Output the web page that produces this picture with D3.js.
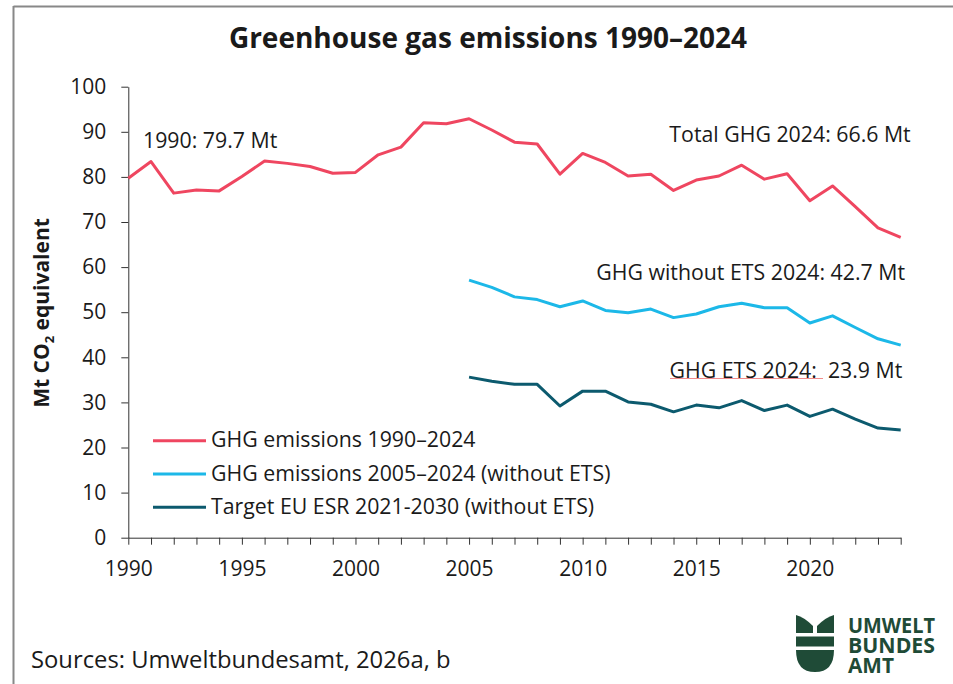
<!DOCTYPE html>
<html lang="en">
<head>
    <meta charset="UTF-8">
    <title>Greenhouse gas emissions 1990–2024</title>
    <script src="https://cdn.jsdelivr.net/npm/d3@7/dist/d3.min.js"></script>
    <style>
        body { margin: 0; background: #fff; }
        text { font-family: "Open Sans", "Noto Sans", sans-serif; fill: #1a1a1a; }
    </style>
</head>
<body>
    <svg id="chart" width="953" height="684"></svg>

    <script>
        // data
        const years = [1990, 1991, 1992, 1993, 1994, 1995, 1996, 1997, 1998, 1999,
            2000, 2001, 2002, 2003, 2004, 2005, 2006, 2007, 2008, 2009,
            2010, 2011, 2012, 2013, 2014, 2015, 2016, 2017, 2018, 2019,
            2020, 2021, 2022, 2023, 2024];
        const totalGHG = [79.7, 83.4, 76.4, 77.1, 76.9, 80.1, 83.5, 83.0, 82.3, 80.8,
            81.0, 84.9, 86.6, 92.0, 91.8, 92.9, 90.4, 87.7, 87.3, 80.6,
            85.2, 83.2, 80.2, 80.6, 77.0, 79.3, 80.2, 82.6, 79.5, 80.7,
            74.7, 78.0, 73.4, 68.7, 66.6];
        const yearsESR = years.slice(15); // 2005-2024
        const withoutETS = [57.1, 55.5, 53.4, 52.8, 51.2, 52.5, 50.4, 49.9, 50.7, 48.8,
            49.6, 51.2, 52.0, 51.0, 51.0, 47.6, 49.2, 46.6, 44.1, 42.7];
        const ghgETS = [35.6, 34.7, 34.0, 34.0, 29.2, 32.5, 32.5, 30.1, 29.6, 27.9,
            29.4, 28.8, 30.4, 28.2, 29.4, 26.9, 28.5, 26.3, 24.3, 23.9];
        const yTicks = [0, 10, 20, 30, 40, 50, 60, 70, 80, 90, 100];
        const seriesNames = ["GHG emissions 1990–2024", "GHG emissions 2005–2024 (without ETS)", "Target EU ESR 2021-2030 (without ETS)"];
        const colors = ["#ef4660", "#1cb8e8", "#0c5a6e"];

        const svg = d3.select("#chart");

        // frame
        svg.append("line").attr("x1", 13.5).attr("x2", 953).attr("y1", 6.5).attr("y2", 6.5)
            .attr("stroke", "#888").attr("stroke-width", 2);
        svg.append("line").attr("x1", 13.5).attr("x2", 13.5).attr("y1", 6).attr("y2", 684)
            .attr("stroke", "#888").attr("stroke-width", 2);

        // title
        svg.append("text")
            .attr("x", 488).attr("y", 48)
            .attr("text-anchor", "middle")
            .attr("font-size", "28px")
            .attr("font-weight", "bold")
            .text("Greenhouse gas emissions 1990–2024");

        const x = d3.scaleLinear().domain([1990, 2024]).range([128.3, 900.7]);
        const y = d3.scaleLinear().domain([0, 100]).range([537.7, 86.7]);

        // y axis
        const yAxis = svg.append("g")
            .attr("transform", "translate(128.3,0)")
            .call(d3.axisLeft(y).tickValues(yTicks).tickSize(7).tickSizeOuter(0).tickPadding(15));
        yAxis.selectAll("text").attr("font-size", "21px").attr("font-family", "Open Sans").attr("fill", "#1a1a1a");
        yAxis.selectAll("line, path").attr("stroke", "#333");

        // x axis
        const xAxis = svg.append("g")
            .attr("transform", "translate(0,537.7)")
            .call(d3.axisBottom(x).tickValues(years).tickSize(7).tickSizeOuter(0).tickPadding(16)
                .tickFormat(d => d % 5 === 0 ? d : ""));
        xAxis.selectAll("text").attr("font-size", "21px").attr("font-family", "Open Sans").attr("fill", "#1a1a1a");
        xAxis.selectAll("line, path").attr("stroke", "#333");

        // y label
        const yl = svg.append("text")
            .attr("transform", "translate(49,313) rotate(-90)")
            .attr("text-anchor", "middle")
            .attr("font-size", "21px")
            .attr("font-weight", "bold");
        yl.append("tspan").text("Mt CO");
        yl.append("tspan").attr("font-size", "13px").attr("dy", 5).text("2");
        yl.append("tspan").attr("dy", -5).text(" equivalent");

        // lines
        const line = d3.line().x(d => x(d[0])).y(d => y(d[1]));
        const series = [
            d3.zip(years, totalGHG),
            d3.zip(yearsESR, withoutETS),
            d3.zip(yearsESR, ghgETS)
        ];
        series.forEach((s, i) => {
            svg.append("path")
                .datum(s)
                .attr("d", line)
                .attr("fill", "none")
                .attr("stroke", colors[i])
                .attr("stroke-width", 3)
                .attr("stroke-linejoin", "round");
        });

        // annotations
        svg.append("text").attr("x", 143).attr("y", 148).attr("font-size", "21.3px").text("1990: 79.7 Mt");
        svg.append("text").attr("x", 910.7).attr("y", 142).attr("text-anchor", "end").attr("font-size", "21.3px").text("Total GHG 2024: 66.6 Mt");
        svg.append("text").attr("x", 905).attr("y", 280).attr("text-anchor", "end").attr("font-size", "21.3px").text("GHG without ETS 2024: 42.7 Mt");
        svg.append("line").attr("x1", 670).attr("x2", 823).attr("y1", 378.5).attr("y2", 378.5)
            .attr("stroke", "#f28b8b").attr("stroke-width", 1);
        svg.append("text").attr("x", 902.3).attr("y", 377.7).attr("text-anchor", "end").attr("font-size", "21.3px")
            .attr("xml:space", "preserve").style("white-space", "pre").text("GHG ETS 2024:  23.9 Mt");

        // legend
        const legendY = [440.7, 474, 507.3];
        seriesNames.forEach((name, i) => {
            svg.append("line")
                .attr("x1", 153).attr("x2", 206)
                .attr("y1", legendY[i]).attr("y2", legendY[i])
                .attr("stroke", colors[i]).attr("stroke-width", 3);
            svg.append("text")
                .attr("x", 211).attr("y", legendY[i] + 6.5)
                .attr("font-size", "21.3px")
                .text(name);
        });

        // source
        svg.append("text").attr("x", 31).attr("y", 668).attr("font-size", "23.8px").text("Sources: Umweltbundesamt, 2026a, b");

        // logo
        const green = "#1f4b37";
        const logo = svg.append("g");
        logo.append("path").attr("fill", green)
            .attr("d", "M796,615 Q804,617 813,626 L813,633 L796,633 Z");
        logo.append("path").attr("fill", green)
            .attr("d", "M834,615 Q826,617 817,626 L817,633 L834,633 Z");
        logo.append("rect").attr("fill", green).attr("x", 796).attr("y", 636.5).attr("width", 38).attr("height", 10);
        logo.append("path").attr("fill", green)
            .attr("d", "M796,650 L834,650 Q834,672 815,672 Q796,672 796,650 Z");
        const logoText = ["UMWELT", "BUNDES", "AMT"];
        const logoW = [87, 87, 46];
        logoText.forEach((t, i) => {
            svg.append("text")
                .attr("x", 848).attr("y", 633 + i * 20)
                .attr("font-family", "Roboto, 'Liberation Sans', sans-serif")
                .attr("font-weight", "bold")
                .attr("font-size", "21px")
                .attr("textLength", logoW[i])
                .attr("lengthAdjust", "spacingAndGlyphs")
                .style("fill", green)
                .text(t);
        });
    </script>
</body>
</html>
